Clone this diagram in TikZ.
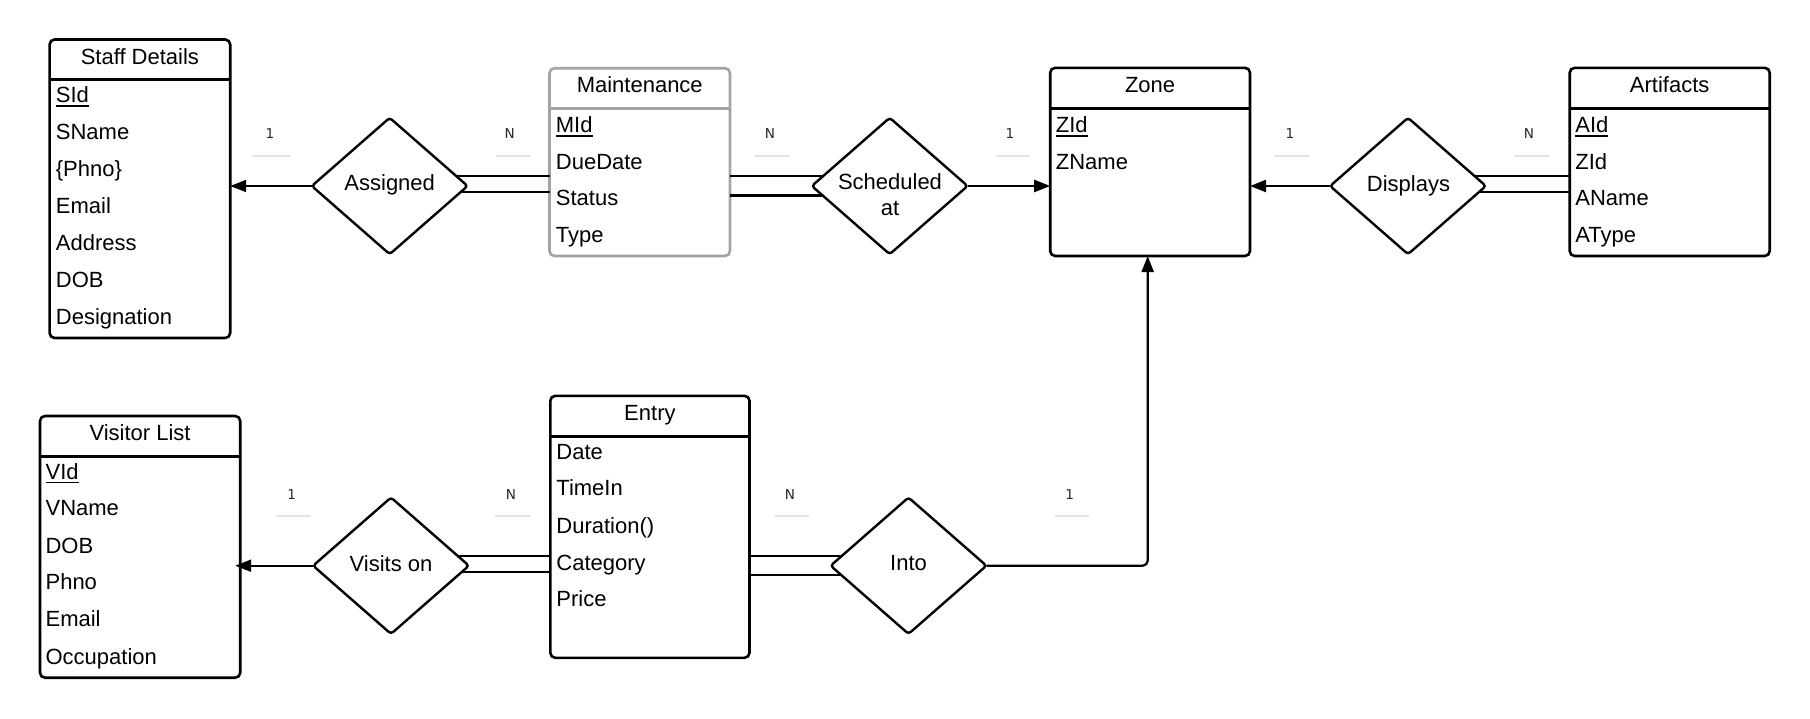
\documentclass[tikz,border=0pt]{standalone}
\usepackage{fontspec}
\setmainfont{Liberation Sans}
\newfontfamily\labfont{DejaVu Sans}
\usetikzlibrary{arrows.meta,shapes.geometric,calc}
\definecolor{mgrey}{HTML}{A3A3A3}
\definecolor{faintc}{HTML}{E4E4E4}
\newcommand{\keyu}[1]{\setbox0\hbox{#1}\rlap{\rule[-2pt]{\wd0}{0.7pt}}\box0}
\begin{document}
\begin{tikzpicture}[x=0.5pt,y=-0.5pt,
  entbox/.style={draw, line width=1.3pt, rounded corners=2.5pt, inner sep=0pt, outer sep=0pt},
  hdr/.style={line width=1.5pt},
  attr/.style={anchor=base west, inner sep=0pt, font=\fontsize{11}{13}\selectfont},
  ttl/.style={anchor=base, inner sep=0pt, font=\fontsize{11}{13}\selectfont},
  dia/.style={draw, shape=diamond, line width=1.2pt, inner sep=0pt, outer sep=0pt,
              minimum width=77.9pt, minimum height=68.2pt, rounded corners=1.5pt},
  conn/.style={line width=1.1pt},
  arr/.style={conn, -{Triangle[length=8pt,width=6pt]}},
  lab/.style={inner sep=0pt, font=\labfont\fontsize{6.8}{8}\selectfont, text=black!85},
  faintl/.style={draw=faintc, line width=1pt}
]
\useasboundingbox (0,0) rectangle (1810,718);

% ---------- entity boxes ----------
\node[entbox, minimum width=90.3pt, minimum height=149.25pt] (staff) at (139.9,188.75) {};
\node[entbox, draw=mgrey, minimum width=90.25pt, minimum height=93.9pt] (mnt) at (639.75,162.1) {};
\node[entbox, minimum width=99.9pt, minimum height=94.1pt] (zone) at (1150.1,161.9) {};
\node[entbox, minimum width=100pt, minimum height=94.1pt] (art) at (1669.7,161.9) {};
\node[entbox, minimum width=100.1pt, minimum height=130.85pt] (vis) at (140.1,546.85) {};
\node[entbox, minimum width=99.6pt, minimum height=131pt] (ent) at (649.9,526.8) {};

\draw[hdr] ([yshift=-19.75pt]staff.north west) -- ([yshift=-19.75pt]staff.north east);
\draw[hdr, draw=mgrey] ([yshift=-20.3pt]mnt.north west) -- ([yshift=-20.3pt]mnt.north east);
\draw[hdr] ([yshift=-20.35pt]zone.north west) -- ([yshift=-20.35pt]zone.north east);
\draw[hdr] ([yshift=-20.35pt]art.north west) -- ([yshift=-20.35pt]art.north east);
\draw[hdr] ([yshift=-20.35pt]vis.north west) -- ([yshift=-20.35pt]vis.north east);
\draw[hdr] ([yshift=-20.1pt]ent.north west) -- ([yshift=-20.1pt]ent.north east);

% titles
\node[ttl] (staffT) at (139.9,64.4) {Staff Details};
\node[ttl] (mntT) at (639.75,92.6) {Maintenance};
\node[ttl] (zoneT) at (1150.1,92.6) {Zone};
\node[ttl] (artT) at (1669.7,92.6) {Artifacts};
\node[ttl] (visT) at (140.1,440.9) {Visitor List};
\node[ttl] (entT) at (649.9,420.9) {Entry};

% Staff attributes
\node[attr] (s1) at (55.5,102.6) {\keyu{SId}};
\node[attr] (s2) at (55.5,139.6) {SName};
\node[attr] (s3) at (55.5,176.6) {\{Phno\}};
\node[attr] (s4) at (55.5,213.6) {Email};
\node[attr] (s5) at (55.5,250.6) {Address};
\node[attr] (s6) at (55.5,287.6) {DOB};
\node[attr] (s7) at (55.5,324.7) {Designation};

% Maintenance attributes
\node[attr] (m1) at (555.5,132.6) {\keyu{MId}};
\node[attr] (m2) at (555.5,169.3) {DueDate};
\node[attr] (m3) at (555.5,205.9) {Status};
\node[attr] (m4) at (555.5,242.6) {Type};

% Zone attributes
\node[attr] (z1) at (1055.5,132.6) {\keyu{ZId}};
\node[attr] (z2) at (1055.5,169.3) {ZName};

% Artifacts attributes
\node[attr] (a1) at (1575,132.6) {\keyu{AId}};
\node[attr] (a2) at (1575,169.3) {ZId};
\node[attr] (a3) at (1575,205.9) {AName};
\node[attr] (a4) at (1575,242.6) {AType};

% Visitor attributes
\node[attr] (v1) at (45.2,479.3) {\keyu{VId}};
\node[attr] (v2) at (45.2,515.9) {VName};
\node[attr] (v3) at (45.2,553.3) {DOB};
\node[attr] (v4) at (45.2,589.9) {Phno};
\node[attr] (v5) at (45.2,626.9) {Email};
\node[attr] (v6) at (45.2,664.3) {Occupation};

% Entry attributes
\node[attr] (e1) at (556,459.3) {Date};
\node[attr] (e2) at (556,495.9) {TimeIn};
\node[attr] (e3) at (556,533.3) {Duration()};
\node[attr] (e4) at (556,570.3) {Category};
\node[attr] (e5) at (556,606.9) {Price};

% ---------- relationship diamonds ----------
\node[dia] (asg) at (389.7,186) {};
\node[dia] (sch) at (889.7,186) {};
\node[dia] (dsp) at (1408,186) {};
\node[dia] (vso) at (391,565.7) {};
\node[dia] (into) at (908.5,565.7) {};

\node[ttl] (asgT) at (389.7,190.7) {Assigned};
\node[ttl] (schT1) at (890,189.3) {Scheduled};
\node[ttl] (schT2) at (890,215.7) {at};
\node[ttl] (dspT) at (1408.5,191.7) {Displays};
\node[ttl] (vsoT) at (391,571) {Visits on};
\node[ttl] (intoT) at (908.5,570.7) {Into};

% ---------- connectors ----------
\draw[arr] (asg.west) -- (asg.west -| staff.east);
\coordinate (c1) at ([shift={(-11.4,-10)}]asg.east);
\coordinate (c2) at ([shift={(-7.2,6.3)}]asg.east);
\draw[conn] (c1) -- (c1 -| mnt.west);
\draw[conn] (c2) -- (c2 -| mnt.west);

\coordinate (c3) at ([shift={(11.4,-10)}]sch.west);
\coordinate (c4) at ([shift={(10.8,9.5)}]sch.west);
\draw[conn] (mnt.east |- c3) -- (c3);
\draw[conn] (mnt.east |- c4) -- (c4);
\draw[arr] (sch.east) -- (sch.east -| zone.west);

\draw[arr] (dsp.west) -- (dsp.west -| zone.east);
\coordinate (c5) at ([shift={(-11.4,-10)}]dsp.east);
\coordinate (c6) at ([shift={(-6.5,5.7)}]dsp.east);
\draw[conn] (c5) -- (c5 -| art.west);
\draw[conn] (c6) -- (c6 -| art.west);

\draw[arr, shorten >=-2.5pt] (vso.west) -- (vso.west -| vis.east);
\coordinate (c7) at ([shift={(-11.4,-10)}]vso.east);
\coordinate (c8) at ([shift={(-6.9,6)}]vso.east);
\draw[conn] (c7) -- (c7 -| ent.west);
\draw[conn] (c8) -- (c8 -| ent.west);

\coordinate (c9) at ([shift={(11.4,-10)}]into.west);
\coordinate (c10) at ([shift={(10.6,9.3)}]into.west);
\draw[conn] (ent.east |- c9) -- (c9);
\draw[conn] (ent.east |- c10) -- (c10);
\draw[arr, rounded corners=2.5pt] (into.east) -| ([xshift=-1.2pt]zone.south);

% ---------- cardinality labels ----------
\node[lab] (l1) at (270,134) {1};
\node[lab] (l2) at (509.7,134) {N};
\node[lab] (l3) at (770,134) {N};
\node[lab] (l4) at (1010,134) {1};
\node[lab] (l5) at (1290,134) {1};
\node[lab] (l6) at (1529,134) {N};
\node[lab] (l7) at (291.6,494.3) {1};
\node[lab] (l8) at (510.9,494.3) {N};
\node[lab] (l9) at (790,494.3) {N};
\node[lab] (l10) at (1069.6,494.3) {1};

\draw[faintl] (252,156) -- (290,156);
\draw[faintl] (495.6,156) -- (530,156);
\draw[faintl] (755,156) -- (790,156);
\draw[faintl] (995.6,156) -- (1030,156);
\draw[faintl] (1274,156) -- (1309,156);
\draw[faintl] (1514,156) -- (1549,156);
\draw[faintl] (275.5,516) -- (310.7,516);
\draw[faintl] (495,516) -- (530,516);
\draw[faintl] (774.6,516) -- (809,516);
\draw[faintl] (1055,516) -- (1089.3,516);
\end{tikzpicture}
\end{document}
